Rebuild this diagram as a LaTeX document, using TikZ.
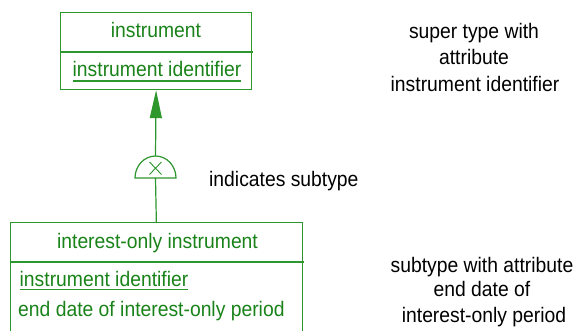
\documentclass[tikz,border=0pt]{standalone}
\usepackage{fontspec}
\setmainfont{Liberation Sans}[FakeStretch=0.92]
\usetikzlibrary{arrows.meta}
\definecolor{erline}{RGB}{45,150,45}
\definecolor{ertext}{RGB}{25,130,25}
\tikzset{
  erbox/.style={draw=erline, line width=1.2pt, inner sep=0pt, anchor=north west},
  erline/.style={draw=erline, line width=1.2pt},
  ername/.style={text=ertext, inner sep=0pt, anchor=base},
  erattr/.style={text=ertext, inner sep=0pt, anchor=base west},
  note/.style={text=black, inner sep=0pt, anchor=base, align=center},
}
\begin{document}
\begin{tikzpicture}[x=1pt, y=-1pt, font=\fontsize{21}{26.5}\selectfont]
\useasboundingbox (0,0) rectangle (576,330);
\clip (0,0) rectangle (576,330);

% supertype entity
\node[erbox, minimum width=191pt, minimum height=77pt] (sup) at (60,12) {};
\draw[erline] (60,52) -- (253,52);
\node[ername] (supname) at (156,37.5) {instrument};
\node[ername] (supid) at (157,76.5) {instrument identifier};
\draw[erline] ([yshift=-4.5pt]supid.base west) -- ([yshift=-4.5pt]supid.base east);

% subtype entity
\node[erbox, minimum width=292.5pt, minimum height=130pt] (sub) at (9.5,222) {};
\draw[erline] (9.5,262) -- (304,262);
\node[ername] (subname) at (157.5,248) {interest-only instrument};
\node[erattr] (subid) at (19.5,286) {instrument identifier};
\draw[erline] ([yshift=-3.5pt]subid.base west) -- ([yshift=-3.5pt]subid.base east);
\node[erattr] (subend) at (18,316) {end date of interest-only period};

% exclusive subtype symbol
\draw[erline, fill=white] (135,178) arc[start angle=180, end angle=0, x radius=20.5pt, y radius=22pt] -- cycle;
\draw[erline, line width=0.9pt] (149.5,162) -- (161.5,174.5) (161.5,162) -- (149.5,174.5);
\coordinate (dometop) at (155.5,156);
\coordinate (domebase) at (155.5,178);

% connectors
\draw[erline, -{Triangle[length=28pt, width=12pt]}] (dometop) -- (sup.south);
\draw[erline] (domebase) -- (sub.north);

% annotations
\node[note, anchor=base west] (ind) at (209,186) {indicates subtype};
\node[note] (supnote1) at (474,38) {super type with};
\node[note] (supnote2) at (474,64.5) {attribute};
\node[note] (supnote3) at (475,91) {instrument identifier};
\node[note] (subnote1) at (482,272) {subtype with attribute};
\node[note] (subnote2) at (482,296.5) {end date of};
\node[note] (subnote3) at (484,322) {interest-only period};
\end{tikzpicture}
\end{document}
